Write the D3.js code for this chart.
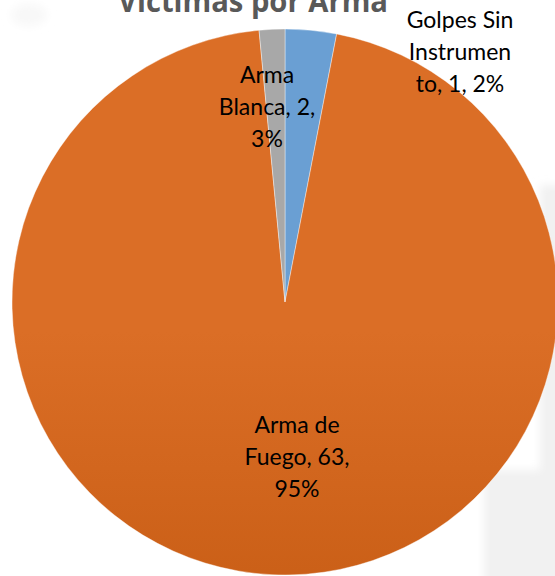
<!DOCTYPE html>
<html>
<head>
<meta charset="utf-8">
<script src="https://cdn.jsdelivr.net/npm/d3@7"></script>
<style>
  body { margin: 0; background: #fff; }
  svg { display: block; }
</style>
</head>
<body>
<div id="chart"></div>
<script>
// data, in slice order (clockwise from 12 o'clock)
const categories = ["Arma Blanca", "Arma de Fuego", "Golpes Sin Instrumento"];
const values = [2, 63, 1];
// data labels as shown on the chart (Excel wrapped them)
const labelLines = [
  ["Arma", "Blanca, 2,", "3%"],
  ["Arma de", "Fuego, 63,", "95%"],
  ["Golpes Sin", "Instrumen", "to, 1, 2%"]
];

let width = 555,
    height = 576,
    cx = 285, cy = 302, radius = 273;

// where the (hand moved) labels sit, as offsets from the pie centre
const labelAnchor = [[-18, -219], [12, 131], [175, -274]];

const svg = d3.select("#chart")
    .append("svg")
    .attr("width", width)
    .attr("height", height);

const defs = svg.append("defs");
const grads = [
  ["g0", [["0%", "#6a9fd3"], ["100%", "#4a84c2"]]],
  ["g1", [["0%", "#db6e26"], ["50%", "#c95e16"], ["100%", "#c45a12"]]],
  ["g2", [["0%", "#a8a8a8"], ["100%", "#9a9a9a"]]]
];
grads.forEach(([id, stops]) => {
  const g = defs.append("linearGradient").attr("id", id)
      .attr("gradientUnits", "userSpaceOnUse")
      .attr("x1", 0).attr("y1", cy - radius).attr("x2", 0).attr("y2", cy + radius);
  stops.forEach(([o, c]) => g.append("stop").attr("offset", o).attr("stop-color", c));
});
defs.append("filter").attr("id", "blur")
  .append("feGaussianBlur").attr("stdDeviation", 4);

// faint slide background bits
const bg = svg.append("g").attr("filter", "url(#blur)");
bg.append("ellipse").attr("cx", 29).attr("cy", 15).attr("rx", 18).attr("ry", 11).attr("fill", "#f8f8f8");
bg.append("rect").attr("x", 540).attr("y", 185).attr("width", 30).attr("height", 400).attr("fill", "#f1f1f1");
bg.append("rect").attr("x", 484).attr("y", 470).attr("width", 80).attr("height", 120).attr("fill", "#f1f1f1");

const color = d3.scaleOrdinal().domain(categories).range(["url(#g0)", "url(#g1)", "url(#g2)"]);

const pie = d3.pie().sort(null).value(d => d.value);
const arc = d3.arc().innerRadius(0).outerRadius(radius);

const data = categories.map((c, i) => ({ name: c, value: values[i], i }));

const g = svg.append("g").attr("transform", `translate(${cx},${cy})`);

g.selectAll("path")
  .data(pie(data))
  .join("path")
  .attr("d", arc)
  .attr("fill", d => color(d.data.name))
  .attr("stroke", "#fff")
  .attr("stroke-width", 0.4);

// labels
const lineH = 32;
g.selectAll("text.lbl")
  .data(data)
  .join("text")
  .attr("class", "lbl")
  .attr("text-anchor", "middle")
  .attr("font-family", "Lato, 'Open Sans', sans-serif")
  .attr("font-size", 23)
  .attr("fill", "#000")
  .each(function(d) {
    const [dx, dy] = labelAnchor[d.i];
    const lines = labelLines[d.i];
    d3.select(this).selectAll("tspan")
      .data(lines)
      .join("tspan")
      .attr("x", dx)
      .attr("y", (l, k) => dy + k * lineH)
      .text(l => l);
  });

// title (partly cut off at the top)
svg.append("text")
  .attr("x", 253)
  .attr("y", 12)
  .attr("text-anchor", "middle")
  .attr("font-family", "'Open Sans', sans-serif")
  .attr("font-weight", "bold")
  .attr("font-size", 30)
  .attr("fill", "#595959")
  .attr("textLength", 270)
  .attr("lengthAdjust", "spacingAndGlyphs")
  .text("Victimas por Arma");
</script>
</body>
</html>
